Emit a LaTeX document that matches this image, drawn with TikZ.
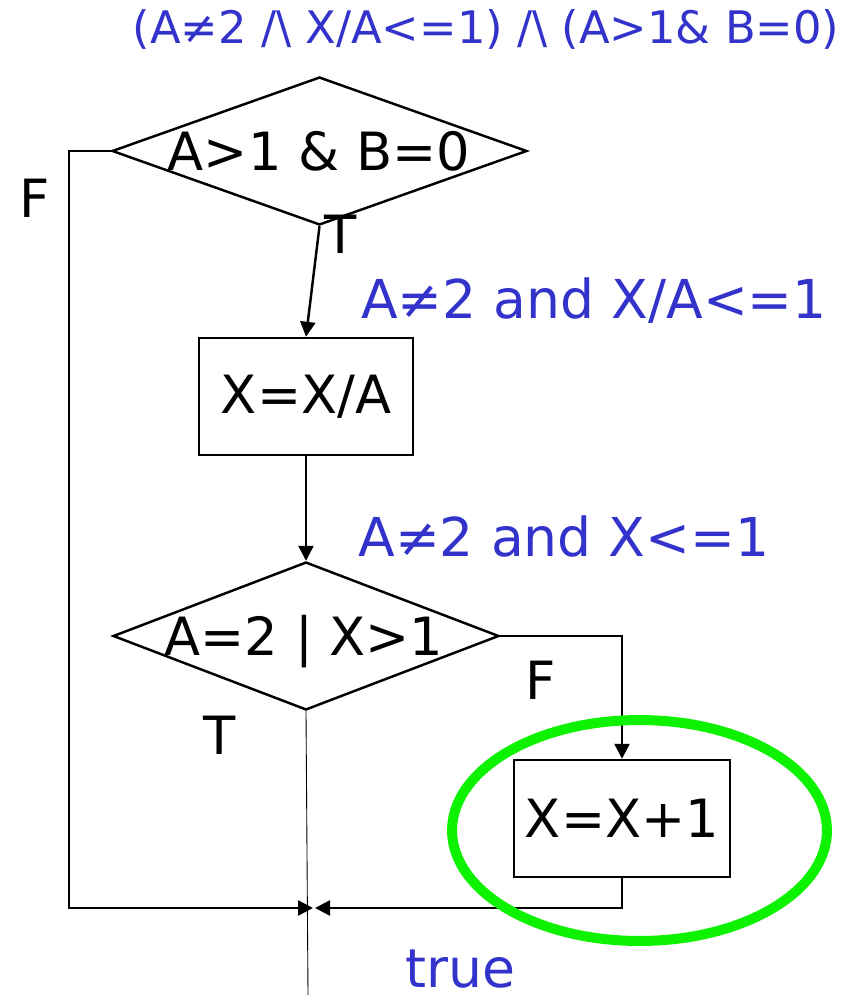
\documentclass[tikz,border=0pt]{standalone}
\usepackage{fontspec}
\setmainfont{DejaVu Sans}
\usetikzlibrary{arrows.meta, positioning, shapes.geometric}
\definecolor{CondBlue}{rgb}{0.2, 0.2, 0.8}
\definecolor{MarkGreen}{rgb}{0.05, 0.95, 0.0}

\begin{document}
\begin{tikzpicture}[
    x=0.02cm, y=-0.02cm,
    big/.style={font=\fontsize{30}{36}\selectfont, anchor=base},
    decision/.style={draw, diamond, line width=1.4pt, inner sep=0pt,
        minimum height=2.96cm},
    process/.style={draw, line width=1.4pt, inner sep=0pt,
        minimum height=2.34cm, font=\fontsize{30}{36}\selectfont},
    cond/.style={text=CondBlue, font=\fontsize{30.5}{36}\selectfont, anchor=base},
    flow/.style={-{Triangle[length=0.3cm, width=0.3cm]}, line width=1.4pt},
]
\useasboundingbox (0,0) rectangle (854,1001);

% invariante arriba
\node[cond, font=\fontsize{25.5}{30}\selectfont] (goal) at (486,43)
    {(A≠2 /\textbackslash\ X/A<=1) /\textbackslash\ (A>1\& B=0)};

% primera decision
\node[decision, minimum width=8.3cm] (ab) at (319.5,151) {};
\node[big] (abtext) at (319,170) {A>1 \& B=0};
\node[big] (f1) at (35,217) {F};
\node[big] (t1) at (341,253) {T};

% asignacion
\node[process, minimum width=4.28cm] (xa) at (306,396.5) {X=X/A};
\draw[flow] (ab.south) -- (xa.north);
\node[cond] (c1) at (594,318) {A≠2 and X/A<=1};

% segunda decision
\node[decision, minimum width=7.72cm] (ax) at (306,636) {};
\node[big] (axtext) at (304,655) {A=2 | X>1};
\draw[flow] (xa.south) -- (ax.north);
\node[cond] (c2) at (564,556) {A≠2 and X<=1};
\node[big] (f2) at (541,699) {F};
\node[big] (t2) at (220,754) {T};

% incremento
\node[process, minimum width=4.32cm] (xb) at (622,818.5) {X=X+1};
\draw[flow] (ax.east) -| (xb.north);

% union
\coordinate (joinl) at (313,908);
\coordinate (joinr) at (315,908);
\coordinate (out) at (308,995);
\draw[flow] (ab.west) -- ++(-42,0) |- (joinl);
\draw[flow] (xb.south) |- (joinr);
\draw[line width=0.5pt] (ax.south) -- (out);
\node[cond, inner sep=0pt] (res) at (460,987) {true};

% marca
\node[draw=MarkGreen, ellipse, line width=0.2cm, inner sep=0pt,
      minimum width=7.5cm, minimum height=4.42cm] (mark) at (639.5,830.5) {};

\end{tikzpicture}
\end{document}
